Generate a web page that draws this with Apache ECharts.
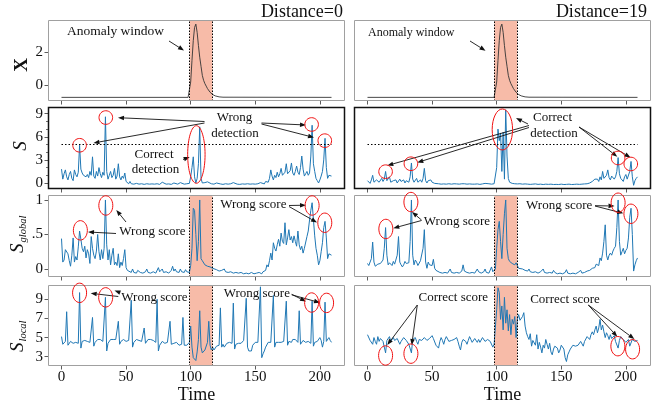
<!DOCTYPE html>
<html>
<head>
<meta charset="utf-8">
<script src="https://cdn.jsdelivr.net/npm/echarts@6/dist/echarts.min.js"></script>
<style>
  html, body { margin: 0; padding: 0; background: #fff; }
  #main { width: 660px; height: 406px; }
</style>
</head>
<body>
<div id="main"></div>
<script>
// 刻度
const timeTicks = [0, 50, 100, 150, 200];
const yTicks = [[0, 2], [0, 3, 6, 9], [0, 0.5, 1], [3, 5, 7, 9]];
const sMinorTicks = [1, 2, 4, 5, 7, 8];
const yRanges = [[-0.95, 3.95], [-0.78, 9.87], [-0.116, 1.072], [2.03, 10.49]];
const threshold = 5;
const windowLeft = [99.2, 116.8];
const windowRight = [98.2, 115.9];

// 原始序列 X（两列相同）
const xSignal = [[0,-0.73],[98,-0.73],[99,-0.7],[100,0.2],[101,1.5],[102,2.7],[103,3.5],[104,3.7],[105,3.2],[106,2.4],[107,1.7],[108,1.15],[109,0.6],[110,0.3],[111,0.1],[112,-0.05],[113,-0.2],[114,-0.32],[115,-0.42],[116,-0.5],[117,-0.56],[118,-0.6],[119,-0.64],[120,-0.67],[122,-0.7],[125,-0.72],[209,-0.73]];

// 异常分数 S
const sLeft = [[0,1.8],[1,0.5],[2,1.2],[3,1.7],[4,0.8],[5,0.4],[6,1.1],[7,1.5],[8,0.6],[9,0.3],[10,1.7],[11,1.1],[12,0.8],[13,1.4],[14,4.9],[15,1.8],[16,1.3],[17,1.0],[18,1.2],[19,0.8],[20,1.1],[21,0.7],[22,1.5],[23,1.0],[24,3.4],[25,0.9],[26,0.6],[27,1.5],[28,0.9],[29,2.0],[30,1.2],[31,0.7],[32,1.4],[33,1.0],[34,8.6],[35,1.5],[36,0.5],[37,1.0],[38,1.5],[39,0.7],[40,1.0],[41,1.9],[42,0.5],[43,0.9],[44,2.5],[45,0.8],[46,0.4],[47,0.9],[48,0.6],[49,1.3],[50,0.2],[51,0.0],[52,-0.1],[53,0.2],[54,-0.1],[56,-0.15],[58,-0.05],[60,-0.15],[62,-0.1],[64,-0.18],[66,-0.1],[68,-0.15],[69,0.05],[70,-0.12],[72,-0.15],[74,-0.1],[76,-0.18],[78,0.1],[79,-0.1],[81,-0.15],[83,-0.12],[85,-0.18],[87,0.0],[88,-0.12],[90,-0.15],[92,0.05],[93,-0.12],[95,-0.15],[97,-0.1],[99,-0.05],[100,0.8],[101,2.0],[102,3.4],[103,0.8],[104,0.0],[105,0.6],[106,2.5],[107,7.3],[108,0.6],[109,0.0],[110,-0.05],[111,0.05],[113,0.15],[114,-0.05],[116,-0.1],[118,-0.15],[120,0.0],[121,-0.15],[123,-0.12],[125,-0.18],[127,-0.1],[129,-0.15],[131,-0.1],[133,0.05],[134,-0.12],[136,-0.15],[138,-0.18],[140,-0.12],[142,-0.15],[144,-0.1],[145,0.0],[146,-0.15],[148,-0.12],[150,-0.15],[152,-0.1],[154,0.05],[155,-0.1],[157,-0.12],[158,0.2],[159,0.4],[160,0.1],[161,0.6],[162,1.7],[163,0.9],[164,0.4],[165,1.0],[166,0.7],[167,1.4],[168,0.8],[169,1.2],[170,1.9],[171,1.0],[172,0.8],[173,1.4],[174,2.5],[175,1.2],[176,1.0],[177,1.6],[178,2.6],[179,1.3],[180,1.0],[181,1.5],[182,2.2],[183,1.4],[184,1.1],[185,2.0],[186,3.5],[187,1.8],[188,0.9],[189,1.2],[190,1.5],[191,1.0],[192,1.3],[193,3.5],[194,7.5],[195,2.5],[196,1.5],[197,0.6],[198,0.3],[199,0.0],[200,0.4],[201,0.9],[202,1.5],[203,3.0],[204,5.8],[205,2.0],[206,0.6],[207,1.0],[208,0.8],[209,0.9]];
const sRight = [[0,0.3],[1,0.1],[2,-0.05],[3,0.4],[4,1.0],[5,0.1],[6,-0.05],[7,0.4],[8,0.2],[9,0.1],[10,0.3],[11,0.6],[12,0.2],[13,0.5],[14,1.5],[15,0.3],[16,0.2],[17,0.8],[18,0.1],[19,0.2],[20,0.3],[21,0.1],[22,0.4],[23,0.0],[24,-0.05],[25,0.5],[26,0.2],[27,0.1],[28,0.4],[29,0.0],[30,0.3],[31,0.2],[32,0.1],[33,0.8],[34,2.6],[35,0.5],[36,0.1],[37,0.3],[38,0.6],[39,0.1],[40,0.2],[41,0.4],[42,0.1],[43,0.6],[44,1.9],[45,0.3],[46,0.0],[47,0.3],[48,0.1],[49,0.4],[50,0.1],[51,0.2],[52,-0.05],[53,-0.12],[55,-0.1],[57,-0.15],[59,-0.12],[61,-0.15],[63,-0.1],[65,-0.15],[67,-0.1],[68,0.0],[69,-0.12],[71,-0.15],[73,-0.1],[74,0.1],[75,-0.1],[77,-0.15],[79,-0.12],[81,-0.15],[82,-0.05],[83,-0.15],[85,-0.12],[87,-0.18],[89,-0.12],[91,-0.05],[92,-0.15],[94,-0.1],[96,-0.15],[98,-0.1],[99,-0.05],[100,2.0],[101,7.0],[102,5.5],[103,6.5],[104,1.5],[105,6.6],[106,0.5],[107,9.5],[108,3.5],[109,0.6],[110,0.1],[111,0.0],[112,-0.05],[114,-0.1],[116,-0.12],[118,-0.1],[120,-0.15],[122,-0.12],[124,-0.15],[126,-0.18],[128,-0.15],[130,-0.12],[132,-0.18],[134,-0.15],[136,-0.2],[138,-0.15],[140,-0.18],[142,-0.15],[144,-0.2],[146,-0.18],[148,-0.2],[150,-0.15],[152,-0.2],[154,-0.18],[156,-0.15],[158,-0.2],[160,-0.18],[162,-0.15],[164,-0.18],[166,-0.15],[168,-0.12],[170,-0.1],[172,0.0],[173,-0.05],[174,0.2],[175,0.1],[176,0.5],[177,0.3],[178,0.5],[179,0.2],[180,0.8],[181,0.4],[182,1.5],[183,0.6],[184,0.4],[185,1.0],[186,1.7],[187,0.7],[188,0.4],[189,0.9],[190,1.0],[191,0.5],[192,0.8],[193,1.5],[194,3.3],[195,1.2],[196,0.6],[197,0.4],[198,0.2],[199,0.8],[200,1.1],[201,0.5],[202,0.7],[203,1.5],[204,2.8],[205,0.8],[206,-0.3],[207,0.3],[208,0.6],[209,0.8]];

// 全局分数 S_global
const gLeft = [[0,0.44],[1,0.1],[2,0.13],[3,0.28],[4,0.28],[5,0.22],[6,0.12],[7,0.04],[8,0.2],[9,0.45],[10,0.1],[11,0.18],[12,0.13],[13,0.32],[14,0.55],[15,0.43],[16,0.3],[17,0.25],[18,0.33],[19,0.16],[20,0.28],[21,0.22],[22,0.08],[23,0.47],[24,0.3],[25,0.2],[26,0.15],[27,0.26],[28,0.5],[29,0.25],[30,0.13],[31,0.28],[32,0.15],[33,0.3],[34,1.0],[35,0.35],[36,0.13],[37,0.28],[38,0.06],[39,0.2],[40,0.3],[41,0.06],[42,0.1],[43,0.05],[44,0.22],[45,0.02],[46,0.1],[47,0.05],[48,0.15],[49,0.28],[50,0.02],[51,-0.02],[52,-0.04],[54,-0.05],[55,0.0],[56,-0.05],[58,-0.06],[59,-0.02],[61,-0.05],[63,-0.06],[65,-0.04],[66,0.0],[67,-0.05],[69,-0.06],[71,-0.04],[73,-0.06],[75,0.02],[76,-0.04],[78,0.0],[79,-0.05],[81,-0.04],[83,-0.06],[85,-0.02],[86,0.04],[87,-0.03],[88,0.0],[89,-0.04],[91,-0.05],[92,0.0],[93,-0.04],[95,-0.05],[96,-0.01],[97,-0.04],[99,-0.05],[100,0.05],[101,0.3],[102,0.88],[103,0.85],[104,0.5],[105,0.12],[106,0.4],[107,1.0],[108,0.15],[109,0.12],[110,0.1],[111,0.06],[112,0.07],[113,0.04],[114,0.05],[115,0.03],[116,0.02],[117,0.01],[118,0.0],[120,-0.01],[122,-0.03],[124,-0.02],[126,0.0],[127,-0.04],[129,-0.05],[131,-0.04],[133,-0.06],[135,-0.05],[137,-0.06],[139,-0.05],[141,-0.07],[143,-0.06],[145,-0.07],[147,-0.05],[149,-0.07],[151,-0.06],[153,-0.05],[155,-0.07],[156,-0.04],[158,-0.02],[159,0.06],[160,0.03],[161,0.12],[162,0.23],[163,0.13],[164,0.38],[165,0.3],[166,0.26],[167,0.35],[168,0.43],[169,0.33],[170,0.52],[171,0.4],[172,0.37],[173,0.67],[174,0.35],[175,0.45],[176,0.57],[177,0.42],[178,0.47],[179,0.38],[180,0.48],[181,0.4],[182,0.33],[183,0.55],[184,0.35],[185,0.28],[186,0.33],[187,0.23],[188,0.3],[189,0.3],[190,0.47],[191,0.55],[192,0.71],[193,0.85],[194,0.96],[195,0.72],[196,0.48],[197,0.3],[198,0.2],[199,0.06],[200,0.12],[201,0.25],[202,0.38],[203,0.6],[204,0.69],[205,0.45],[206,0.15],[207,0.22],[208,0.2],[209,0.2]];
const gRight = [[0,0.08],[1,0.05],[2,0.03],[3,0.15],[4,0.39],[5,0.1],[6,0.04],[7,0.05],[8,0.07],[9,0.06],[10,0.08],[11,0.09],[12,0.13],[13,0.3],[14,0.6],[15,0.2],[16,0.06],[17,0.09],[18,0.08],[19,0.05],[20,0.11],[21,0.07],[22,0.06],[23,0.2],[24,0.47],[25,0.1],[26,0.06],[27,0.03],[28,0.06],[29,0.11],[30,0.08],[31,0.06],[32,0.09],[33,0.4],[34,1.0],[35,0.2],[36,0.06],[37,0.13],[38,0.1],[39,0.05],[40,0.06],[41,0.12],[42,0.1],[43,0.3],[44,0.57],[45,0.1],[46,0.01],[47,0.1],[48,0.06],[49,0.08],[50,0.05],[51,0.14],[52,0.01],[53,-0.02],[54,-0.04],[56,-0.05],[58,-0.06],[60,-0.05],[62,-0.06],[64,0.0],[65,-0.05],[67,-0.06],[69,-0.05],[71,-0.06],[73,-0.03],[74,0.06],[75,-0.03],[77,-0.05],[79,-0.06],[81,-0.05],[83,-0.06],[85,0.0],[86,-0.04],[88,-0.06],[90,-0.04],[91,0.0],[92,-0.05],[94,-0.06],[96,0.03],[97,-0.04],[98,-0.05],[99,0.0],[100,0.3],[101,0.57],[102,0.69],[103,0.4],[104,0.15],[105,0.5],[106,0.8],[107,1.0],[108,0.3],[109,0.15],[110,0.11],[111,0.1],[112,0.08],[113,0.1],[114,0.06],[115,0.09],[116,0.07],[117,0.01],[118,0.0],[120,0.0],[122,-0.02],[124,-0.03],[125,0.0],[126,-0.04],[128,-0.05],[130,-0.04],[132,-0.06],[134,-0.04],[136,0.0],[137,-0.05],[139,-0.06],[141,-0.05],[143,-0.06],[144,-0.02],[145,-0.05],[147,-0.07],[149,-0.06],[151,-0.07],[153,-0.05],[154,-0.01],[155,-0.06],[157,-0.07],[159,-0.06],[161,-0.07],[163,-0.05],[165,-0.02],[166,-0.06],[168,-0.05],[170,-0.03],[172,-0.02],[174,0.01],[175,0.03],[176,0.02],[177,0.07],[178,0.09],[179,0.05],[180,0.16],[181,0.12],[182,0.23],[183,0.4],[184,0.64],[185,0.2],[186,0.13],[187,0.2],[188,0.23],[189,0.2],[190,0.26],[191,0.3],[192,0.33],[193,0.6],[194,1.0],[195,0.4],[196,0.2],[197,0.25],[198,0.3],[199,0.22],[200,0.27],[201,0.3],[202,0.45],[203,0.75],[204,0.88],[205,0.5],[206,-0.03],[207,0.06],[208,0.12],[209,0.16]];

// 局部分数 S_local
const lLeft = [[0,5.1],[1,4.3],[2,4.5],[3,4.6],[4,7.7],[5,4.2],[6,4.4],[7,4.6],[8,4.5],[9,4.4],[10,4.6],[11,4.5],[12,4.7],[13,4.4],[14,9.7],[15,3.9],[16,4.6],[17,4.8],[18,4.7],[19,4.5],[20,4.6],[21,4.8],[22,4.5],[23,4.4],[24,7.1],[25,4.1],[26,4.5],[27,4.7],[28,4.8],[29,4.6],[30,4.8],[31,4.7],[32,4.6],[33,4.5],[34,9.2],[35,3.6],[36,4.4],[37,4.6],[38,4.8],[39,4.7],[40,4.8],[41,4.6],[42,4.8],[43,4.6],[44,6.7],[45,4.3],[46,4.6],[47,4.7],[48,4.8],[49,4.7],[50,4.6],[51,4.8],[52,4.7],[53,4.5],[54,8.9],[55,4.0],[56,4.5],[57,4.7],[58,4.8],[59,4.6],[60,4.7],[61,4.5],[62,4.6],[63,4.7],[64,6.0],[65,4.4],[66,4.6],[67,4.8],[68,4.7],[69,4.8],[70,4.6],[71,4.7],[72,4.6],[73,4.5],[74,9.0],[75,3.6],[76,4.2],[77,4.4],[78,4.6],[79,4.5],[80,4.4],[81,4.6],[82,4.5],[83,4.4],[84,6.7],[85,4.3],[86,4.5],[87,4.4],[88,4.3],[89,4.5],[90,4.3],[91,4.2],[92,4.4],[93,4.3],[94,7.1],[95,4.2],[96,4.1],[97,4.2],[98,4.0],[99,4.5],[100,6.2],[101,4.0],[102,2.9],[103,2.7],[104,2.6],[105,3.5],[106,4.8],[107,7.8],[108,4.0],[109,3.4],[110,3.6],[111,3.7],[112,3.9],[113,4.5],[114,6.7],[115,4.2],[116,3.7],[117,4.0],[118,3.7],[119,3.9],[120,4.1],[121,4.3],[122,4.2],[123,8.1],[124,4.0],[125,4.3],[126,4.0],[127,4.1],[128,4.4],[129,4.2],[130,4.5],[131,4.5],[132,4.4],[133,8.6],[134,3.8],[135,4.3],[136,4.5],[137,4.4],[138,4.6],[139,4.4],[140,4.5],[141,4.7],[142,4.6],[143,9.1],[144,4.0],[145,3.6],[146,3.8],[147,3.6],[148,4.2],[149,4.4],[150,4.5],[151,4.6],[152,4.5],[153,4.7],[154,10.3],[155,2.9],[156,3.3],[157,3.6],[158,4.0],[159,4.2],[160,4.5],[161,4.7],[162,4.5],[163,4.4],[164,9.4],[165,4.0],[166,4.5],[167,4.4],[168,4.5],[169,4.6],[170,4.5],[171,4.7],[172,4.6],[173,4.8],[174,8.8],[175,4.2],[176,4.6],[177,4.7],[178,4.5],[179,4.8],[180,4.7],[181,4.8],[182,4.6],[183,4.5],[184,7.8],[185,4.3],[186,4.5],[187,4.7],[188,4.6],[189,4.5],[190,4.7],[191,4.6],[192,4.5],[193,4.4],[194,8.8],[195,4.1],[196,4.5],[197,4.7],[198,4.6],[199,4.8],[200,5.0],[201,4.7],[202,4.0],[203,4.6],[204,8.7],[205,4.6],[206,4.8],[207,5.0],[208,4.7],[209,4.5]];
const lRight = [[0,5.3],[1,5.1],[2,4.7],[3,4.9],[4,4.3],[5,5.0],[6,4.6],[7,4.3],[8,5.1],[9,4.6],[10,4.9],[11,5.0],[12,4.6],[13,4.4],[14,3.4],[15,4.7],[16,4.9],[17,5.1],[18,4.6],[19,4.8],[20,5.0],[21,4.7],[22,4.5],[23,4.9],[24,5.0],[25,4.3],[26,4.6],[27,4.8],[28,5.0],[29,5.1],[30,4.7],[31,4.5],[32,4.3],[33,4.1],[34,3.4],[35,4.8],[36,4.9],[37,5.0],[38,4.6],[39,4.3],[40,4.8],[41,4.9],[42,4.7],[43,4.5],[44,5.0],[45,5.1],[46,4.7],[47,4.5],[48,4.9],[49,5.0],[50,5.2],[51,4.9],[52,4.8],[53,4.2],[54,4.3],[55,3.9],[56,4.6],[57,5.0],[58,4.7],[59,4.3],[60,4.8],[61,5.1],[62,4.9],[63,4.6],[64,4.8],[65,4.7],[66,4.5],[67,4.8],[68,4.9],[69,5.0],[70,4.6],[71,4.1],[72,3.7],[73,4.5],[74,4.8],[75,4.9],[76,4.6],[77,4.3],[78,4.7],[79,5.1],[80,4.8],[81,4.5],[82,4.6],[83,4.9],[84,4.7],[85,4.5],[86,4.8],[87,4.5],[88,4.7],[89,5.0],[90,4.8],[91,4.6],[92,4.7],[93,4.8],[94,4.9],[95,4.6],[96,4.4],[97,4.0],[98,4.3],[99,4.5],[100,7.9],[101,10.2],[102,9.7],[103,6.9],[104,8.3],[105,5.8],[106,9.2],[107,6.5],[108,7.9],[109,5.7],[110,7.4],[111,5.3],[112,6.9],[113,6.4],[114,7.2],[115,5.0],[116,6.9],[117,7.4],[118,6.8],[119,7.0],[120,7.2],[121,7.6],[122,6.2],[123,5.5],[124,5.1],[125,4.8],[126,5.4],[127,4.1],[128,4.7],[129,4.5],[130,4.2],[131,5.3],[132,3.8],[133,4.5],[134,4.0],[135,3.4],[136,4.2],[137,3.9],[138,4.8],[139,4.3],[140,3.8],[141,4.4],[142,3.5],[143,3.2],[144,3.8],[145,4.1],[146,4.3],[147,3.9],[148,3.4],[149,3.7],[150,4.2],[151,4.3],[152,3.8],[153,2.9],[154,2.5],[155,3.2],[156,3.5],[157,3.8],[158,3.7],[159,4.2],[160,4.4],[161,4.1],[162,3.9],[163,4.2],[164,4.3],[165,4.6],[166,4.4],[167,4.1],[168,4.6],[169,4.8],[170,5.1],[171,4.9],[172,4.8],[173,5.3],[174,5.6],[175,5.3],[176,5.8],[177,6.2],[178,5.5],[179,6.0],[180,6.9],[181,5.8],[182,6.3],[183,5.6],[184,5.0],[185,5.5],[186,5.2],[187,4.8],[188,5.3],[189,4.9],[190,4.7],[191,5.2],[192,4.6],[193,4.4],[194,3.9],[195,4.7],[196,5.1],[197,5.0],[198,4.8],[199,4.7],[200,4.5],[201,4.3],[202,4.8],[203,4.1],[204,4.3],[205,4.8],[206,4.9],[207,4.6],[208,4.5],[209,4.7]];

// 红圈标注位置（数据坐标）：[面板, t, 值, rx, ry]
const rings = [
  [2,14,4.9,6.8,6.8],[2,34.3,8.5,6.8,6.8],[2,193.6,7.6,6.8,6.8],[2,203.8,5.5,6.8,6.8],[2,104.4,3.7,8.7,28.8],
  [3,14,1.47,6.8,6.8],[3,33.6,2.5,6.8,6.8],[3,194,3.25,6.8,6.8],[3,203.8,2.47,6.8,6.8],[3,104.4,6.95,10.2,20.5],
  [4,14.6,0.56,7,9.7],[4,34.3,0.92,7,9.7],[4,194,0.92,7,9.7],[4,203.8,0.67,7,9.7],
  [5,14.2,0.58,7,9.7],[5,33.6,0.97,7,9.7],[5,194,0.96,7,9.7],[5,203.9,0.8,7,9.7],
  [6,14,9.67,7,9.7],[6,34.2,9.2,7,9.7],[6,193.6,8.66,7,9.7],[6,205.2,8.62,7,9.7],
  [7,14,3.13,7,9.7],[7,33.6,3.32,7,9.7],[7,193.8,4.1,7,9.7],[7,205.2,3.78,7,9.7]
];

const FONT = '"Liberation Serif", "Times New Roman", serif';
const BLUE = '#1f77b4';
const colLeft = [48, 354];
const colWidth = 297;
const rowBox = [[20, 81], [107, 82], [195, 82], [285, 81]];
const rowData = [[xSignal, xSignal], [sLeft, sRight], [gLeft, gRight], [lLeft, lRight]];

const chart = echarts.init(document.getElementById('main'), null, { renderer: 'canvas' });

const grid = [], xAxis = [], yAxis = [], series = [], borders = [];
rowBox.forEach(([top, height], r) => {
  colLeft.forEach((left, c) => {
    const i = r * 2 + c;
    grid.push({ left, top, width: colWidth, height });
    borders.push({
      type: 'rect', z: 100, silent: true,
      shape: { x: left + 0.5, y: top + 0.5, width: colWidth - 1, height: height - 1 },
      style: { fill: 'none', stroke: r === 1 ? '#111' : '#a0a0a0', lineWidth: r === 1 ? 1.5 : 1 }
    });
    xAxis.push({
      type: 'value', gridIndex: i, min: -10.45, max: 219.45,
      axisLine: { show: false, onZero: false },
      axisTick: { show: true, customValues: timeTicks, length: 3.5, lineStyle: { color: '#333', width: 0.8 } },
      axisLabel: { show: r === 3, customValues: timeTicks, fontFamily: FONT, fontSize: 15, color: '#111', margin: 4 },
      splitLine: { show: false },
      name: r === 3 ? 'Time' : '', nameLocation: 'middle', nameGap: 18,
      nameTextStyle: { fontFamily: FONT, fontSize: 18, color: '#111' }
    });
    yAxis.push({
      type: 'value', gridIndex: i, min: yRanges[r][0], max: yRanges[r][1],
      axisLine: { show: false, onZero: false },
      axisTick: { show: c === 0, customValues: yTicks[r], length: 3.5, lineStyle: { color: '#333', width: 0.8 } },
      axisLabel: {
        show: c === 0, customValues: yTicks[r], fontFamily: FONT, fontSize: 15, color: '#111', margin: 5,
        formatter: v => (v === 0.5 ? '.5' : String(v))
      },
      splitLine: { show: false }
    });
    // 异常窗口
    if (r !== 1) {
      const w = c === 0 ? windowLeft : windowRight;
      series.push({
        type: 'line', xAxisIndex: i, yAxisIndex: i, data: [], silent: true, z: 1,
        markArea: { silent: true, itemStyle: { color: '#f7bba8' }, data: [[{ xAxis: w[0] }, { xAxis: w[1] }]] },
        markLine: {
          silent: true, symbol: 'none', label: { show: false },
          lineStyle: { color: '#000', type: [1.5, 1.5], width: 1 },
          data: [{ xAxis: w[0] }, { xAxis: w[1] }]
        }
      });
    } else {
      // 阈值线
      series.push({
        type: 'line', xAxisIndex: i, yAxisIndex: i, data: [], silent: true, z: 1,
        markLine: {
          silent: true, symbol: 'none', label: { show: false },
          lineStyle: { color: '#000', type: [1.5, 2], width: 1 },
          data: [[{ coord: [0, threshold] }, { coord: [209, threshold] }]]
        }
      });
    }
    series.push({
      type: 'line', xAxisIndex: i, yAxisIndex: i, data: rowData[r][c], z: 3,
      showSymbol: false, symbol: 'none', silent: true,
      lineStyle: { color: r === 0 ? '#333' : BLUE, width: r === 0 ? 0.9 : 1 }
    });
  });
});

// S 面板的次刻度
yAxis.push({
  type: 'value', gridIndex: 2, position: 'left', min: yRanges[1][0], max: yRanges[1][1],
  axisLine: { show: false, onZero: false },
  axisTick: { show: true, customValues: sMinorTicks, length: 2, lineStyle: { color: '#333', width: 0.7 } },
  axisLabel: { show: false }, splitLine: { show: false }
});

chart.setOption({ animation: false, grid, xAxis, yAxis, series });

// 注释
function txt(x, y, text, size, align) {
  return {
    type: 'text', x, y, z: 120, silent: true,
    style: { text, font: size + 'px ' + FONT, fill: '#111', align: align || 'center', verticalAlign: 'middle',
      textAlign: align || 'center', textVerticalAlign: 'middle' }
  };
}
function arrow(x1, y1, x2, y2) {
  const a = Math.atan2(y2 - y1, x2 - x1), L = 6, W = 2.3;
  const bx = x2 - L * Math.cos(a), by = y2 - L * Math.sin(a);
  return [
    { type: 'line', z: 110, silent: true, shape: { x1, y1, x2: bx, y2: by }, style: { stroke: '#111', lineWidth: 0.9 } },
    { type: 'polygon', z: 110, silent: true,
      shape: { points: [[x2, y2], [bx - W * Math.sin(a), by + W * Math.cos(a)], [bx + W * Math.sin(a), by - W * Math.cos(a)]] },
      style: { fill: '#111' } }
  ];
}
function rotLabel(x, y, main, sub, bold) {
  const children = [{
    type: 'text', x: 0, y: 0,
    style: { text: main, font: (bold ? 'bold ' : 'italic ') + '19px ' + FONT, fill: '#111',
      align: sub ? 'left' : 'center', verticalAlign: 'middle', textAlign: sub ? 'left' : 'center', textVerticalAlign: 'middle' }
  }];
  if (sub) {
    children.push({
      type: 'text', x: 10.5, y: 5,
      style: { text: sub, font: 'italic 10.5px ' + FONT, fill: '#111', align: 'left', verticalAlign: 'middle',
        textAlign: 'left', textVerticalAlign: 'middle' }
    });
  }
  return { type: 'group', x, y, rotation: Math.PI / 2, z: 120, silent: true, children };
}

const g = [].concat(borders);
rings.forEach(([i, t, v, rx, ry]) => {
  const [cx, cy] = chart.convertToPixel({ xAxisIndex: i, yAxisIndex: i }, [t, v]);
  g.push({ type: 'ellipse', z: 115, silent: true, shape: { cx, cy, rx, ry }, style: { fill: 'none', stroke: '#f01010', lineWidth: 1 } });
});

g.push(
  txt(343, 12, 'Distance=0', 18, 'right'),
  txt(647, 12, 'Distance=19', 18, 'right'),
  rotLabel(22, 65, 'X', null, true),
  rotLabel(20.5, 146, 'S', null, false),
  rotLabel(18, 253, 'S', 'global'),
  rotLabel(18, 352, 'S', 'local'),
  // 第一行
  txt(67, 31.5, 'Anomaly window', 13.5, 'left'),
  txt(368, 32.5, 'Anomaly window', 12, 'left'),
  // 第二行
  txt(234.5, 118, 'Wrong', 13), txt(235, 133.5, 'detection', 13),
  txt(154, 155, 'Correct', 13), txt(155.5, 170, 'detection', 13),
  txt(552.5, 118, 'Correct', 13), txt(554, 134, 'detection', 13),
  // 第三行
  txt(152.5, 232, 'Wrong score', 13), txt(253.3, 205, 'Wrong score', 13),
  txt(457, 221.7, 'Wrong score', 13), txt(559.2, 205.3, 'Wrong score', 13),
  // 第四行
  txt(154.5, 297.5, 'Wrong score', 13), txt(256.8, 293.3, 'Wrong score', 13),
  txt(453.3, 297.5, 'Correct score', 13), txt(565, 300, 'Correct score', 13)
);

[
  [169, 41, 184, 50.5], [470, 41, 485.5, 50.7],
  [204.5, 121.5, 118, 117.7], [204.5, 123, 93.5, 143], [261.5, 123, 306, 125], [261.5, 124, 314, 137.5], [183, 159.5, 189.7, 157],
  [529, 125.5, 387.3, 165.5], [529, 127.5, 417.3, 162.5], [528, 124, 516, 118], [579, 127, 617.3, 156.7], [579, 127, 630.5, 157.5],
  [116, 233.5, 88, 232], [126, 222, 116.3, 210], [289, 205.5, 306, 205.2], [289, 206.5, 317, 222.5],
  [421.5, 220.5, 393.3, 228.2], [421.5, 220, 412, 212], [595, 205.7, 614.5, 206], [595, 206, 623.3, 213.3],
  [118.3, 296.5, 90.7, 293.3], [120, 292.5, 114.5, 290.5], [291.7, 294.3, 306, 301.5], [291.7, 294.8, 320, 302.7],
  [417.3, 305, 387.3, 345], [417.3, 305, 411.7, 345], [588.3, 305, 617.3, 336.7], [588.3, 305, 634.3, 339]
].forEach(a => g.push(...arrow(...a)));

chart.setOption({ graphic: { elements: g } });
</script>
</body>
</html>
